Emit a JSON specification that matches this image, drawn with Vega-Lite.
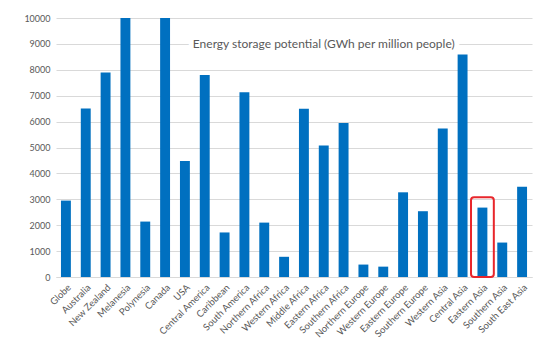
{
  "$schema": "https://vega.github.io/schema/vega-lite/v6.json",
  "width": 476,
  "height": 259,
  "autosize": {"type": "none"},
  "padding": {"left": 56, "top": 18, "right": 16, "bottom": 80},
  "background": "white",
  "config": {
    "view": {"stroke": null},
    "font": "Lato",
    "axis": {"labelFont": "Lato", "labelColor": "#595959", "labelFontSize": 9}
  },
  "data": {
    "values": [
      {"region": "Globe", "value": 2950},
      {"region": "Australia", "value": 6510},
      {"region": "New Zealand", "value": 7900},
      {"region": "Melanesia", "value": 10000},
      {"region": "Polynesia", "value": 2140},
      {"region": "Canada", "value": 10000},
      {"region": "USA", "value": 4480},
      {"region": "Central America", "value": 7800},
      {"region": "Caribbean", "value": 1720},
      {"region": "South America", "value": 7130},
      {"region": "Northern Africa", "value": 2100},
      {"region": "Western Africa", "value": 780},
      {"region": "Middle Africa", "value": 6500},
      {"region": "Eastern Africa", "value": 5080},
      {"region": "Southern Africa", "value": 5950},
      {"region": "Northern Europe", "value": 480},
      {"region": "Western Europe", "value": 400},
      {"region": "Eastern Europe", "value": 3270},
      {"region": "Southern Europe", "value": 2540},
      {"region": "Western Asia", "value": 5730},
      {"region": "Central Asia", "value": 8590},
      {"region": "Eastern Asia", "value": 2680},
      {"region": "Southern Asia", "value": 1330},
      {"region": "South East Asia", "value": 3480}
    ]
  },
  "encoding": {
    "x": {
      "field": "region",
      "type": "nominal",
      "sort": null,
      "scale": {"paddingInner": 0.5, "paddingOuter": 0.25},
      "axis": {
        "title": null,
        "labelAngle": -45,
        "labelAlign": "right",
        "labelBaseline": "top",
        "labelPadding": 5,
        "labelFontSize": 9.5,
        "ticks": false,
        "domainColor": "#d9d9d9",
        "grid": false
      }
    }
  },
  "layer": [
    {
      "mark": {"type": "bar", "color": "#0070C0"},
      "encoding": {
        "y": {
          "field": "value",
          "type": "quantitative",
          "scale": {"domain": [0, 10000], "nice": false},
          "axis": {
            "title": null,
            "values": [0, 1000, 2000, 3000, 4000, 5000, 6000, 7000, 8000, 9000, 10000],
            "labelOverlap": false,
            "ticks": false,
            "domain": false,
            "gridColor": "#d9d9d9",
            "labelPadding": 6,
            "format": "d"
          }
        }
      }
    },
    {
      "transform": [{"filter": "datum.region === 'Eastern Asia'"}],
      "mark": {"type": "bar", "fill": null, "fillOpacity": 0, "stroke": "#e8262b", "strokeWidth": 2, "cornerRadius": 3, "width": {"band": 2.3}},
      "encoding": {
        "y": {
          "datum": 3080, "type": "quantitative",
          "axis": {
            "title": null,
            "values": [0, 1000, 2000, 3000, 4000, 5000, 6000, 7000, 8000, 9000, 10000],
            "labelOverlap": false,
            "ticks": false,
            "domain": false,
            "gridColor": "#d9d9d9",
            "labelPadding": 6,
            "format": "d"
          }
        },
        "y2": {"datum": 0}
      }
    },
    {
      "data": {"values": [{"label": "Energy storage potential (GWh per million people)"}]},
      "mark": {"type": "text", "font": "Lato", "fontSize": 12, "fill": "white", "stroke": "white", "strokeWidth": 10, "strokeJoin": "round"},
      "encoding": {
        "x": {"datum": "Eastern Africa"},
        "y": {
          "datum": 9000, "type": "quantitative",
          "axis": {
            "title": null,
            "values": [0, 1000, 2000, 3000, 4000, 5000, 6000, 7000, 8000, 9000, 10000],
            "labelOverlap": false,
            "ticks": false,
            "domain": false,
            "gridColor": "#d9d9d9",
            "labelPadding": 6,
            "format": "d"
          }
        },
        "text": {"field": "label"}
      }
    },
    {
      "data": {"values": [{"label": "Energy storage potential (GWh per million people)"}]},
      "mark": {"type": "text", "font": "Lato", "fontSize": 12, "color": "#595959"},
      "encoding": {
        "x": {"datum": "Eastern Africa"},
        "y": {
          "datum": 9000, "type": "quantitative",
          "axis": {
            "title": null,
            "values": [0, 1000, 2000, 3000, 4000, 5000, 6000, 7000, 8000, 9000, 10000],
            "labelOverlap": false,
            "ticks": false,
            "domain": false,
            "gridColor": "#d9d9d9",
            "labelPadding": 6,
            "format": "d"
          }
        },
        "text": {"field": "label"}
      }
    }
  ]
}
